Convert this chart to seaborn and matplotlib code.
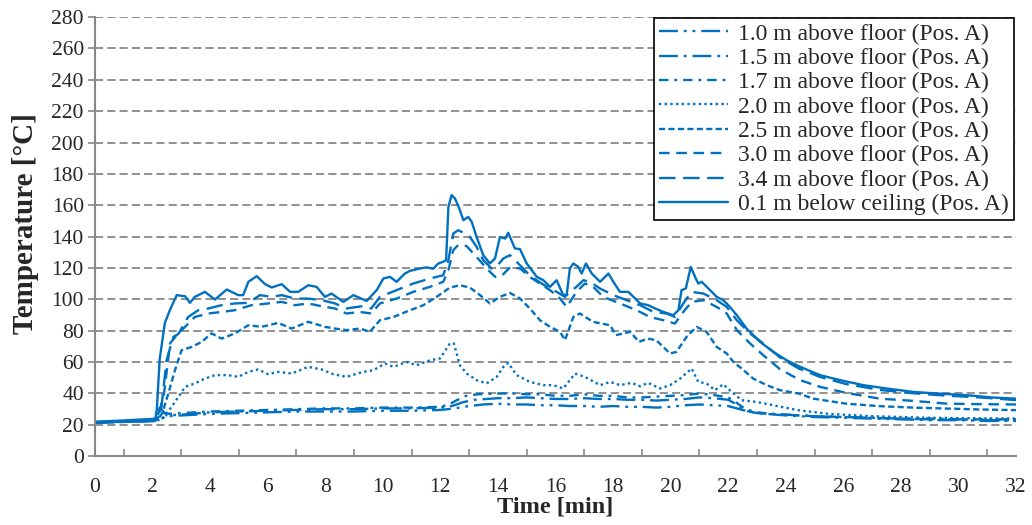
import numpy as np
import pandas as pd
import seaborn as sns
import matplotlib
matplotlib.use("Agg")
import matplotlib.pyplot as plt

# ---- measured temperatures, position A (time in min, temperature in °C) ----
t_01c = [0, 1, 2, 2.1, 2.15, 2.25, 2.43, 2.6, 2.84, 3.13, 3.3, 3.47, 3.82, 4.17, 4.58, 4.98,
         5.15, 5.33, 5.62, 5.91, 6.14, 6.49, 6.78, 7.06, 7.41, 7.7, 7.99, 8.22, 8.63, 8.98,
         9.44, 9.79, 10.02, 10.25, 10.48, 10.77, 10.95, 11.29, 11.52, 11.75, 11.93, 12.1,
         12.2, 12.28, 12.39, 12.51, 12.68, 12.8, 12.97, 13.09, 13.26, 13.49, 13.72, 13.9,
         14.07, 14.25, 14.36, 14.59, 14.77, 15.0, 15.35, 15.58, 15.81, 16.04, 16.27, 16.39,
         16.5, 16.62, 16.79, 16.91, 17.06, 17.26, 17.55, 17.84, 18.01, 18.24, 18.53, 18.71,
         18.94, 19.22, 19.46, 19.75, 20.09, 20.27, 20.38, 20.53, 20.7, 20.85, 20.96, 21.08,
         21.37, 21.6, 21.83, 22.06, 22.3, 22.64, 23.11, 23.57, 24.03, 24.5, 25.19, 25.89,
         26.7, 27.5, 28.43, 29.36, 30.29, 31.21, 32]
T_01c = [22, 22.8, 23.8, 24, 30, 62, 85, 93, 102.7, 102, 97.8, 101.6, 104.8, 99.9, 106.3, 102.7,
         102.7, 111.2, 114.8, 109.7, 107.6, 109.7, 104.8, 104.8, 109, 108, 101.6, 103.7, 98.4, 102.7,
         99, 105.9, 113.3, 114.4, 111.2, 116.5, 118.2, 119.7, 120.4, 119.5, 122.9, 124,
         125, 159, 166.5, 164.3, 156.9, 150.5, 152.6, 149.4, 139.8, 128.2, 122.9, 126.1,
         139.8, 138.8, 142.4, 132.5, 132, 122.9, 114.4, 112.2, 108, 112.2, 102.7, 103,
         119.7, 122.9, 120.8, 116.5, 122.9, 116.5, 111.2, 116.5, 111.2, 104.8, 104.8, 101.6,
         97.4, 96.3, 94.2, 92, 89.9, 93.1, 105.9, 107, 120.7, 114.4, 110.1, 111.2,
         105.9, 101.6, 99.5, 95.2, 89.9, 81.4, 72.9, 66.5, 61.2, 57, 51.7, 48.5,
         45.3, 43.2, 41, 39.9, 38.9, 37.4, 36.7]

t_34 = [0, 1, 2, 2.15, 2.3, 2.49, 2.72, 2.9, 3.24, 3.59, 3.94, 4.4, 4.86, 5.33, 5.73, 6.14,
        6.49, 6.95, 7.41, 7.88, 8.34, 8.74, 9.3, 9.6, 9.9, 10.48, 11.06, 11.64, 12.1, 12.28,
        12.45, 12.62, 12.8, 13.03, 13.26, 13.49, 13.78, 14.0, 14.19, 14.42, 14.65, 14.88,
        15.1, 15.35, 15.7, 16.04, 16.33, 16.5, 16.73, 16.97, 17.2, 17.55, 18.01, 18.47,
        18.94, 19.4, 19.86, 20.15, 20.44, 20.73, 21.14, 21.6, 21.95, 22.3, 22.76, 23.22,
        23.8, 24.44, 25.2, 26.1, 27.3, 28.4, 29.6, 30.75, 32]
T_34 = [21.5, 22.3, 23, 23.5, 30, 61.2, 76, 78, 88.8, 93.1, 94.2, 96.3, 97.4, 97.8, 102.7, 101.6,
        102.7, 100.5, 100.5, 99.5, 97.4, 94.2, 95.7, 94.2, 101.6, 105.9, 110.1, 113.3, 115.4, 125,
        142, 144.1, 142.5, 139.8, 133.5, 125, 119.7, 122, 126.1, 128.2, 123.9, 119.7,
        115.4, 112.2, 108, 104.8, 101.6, 104.8, 108, 112.2, 111.2, 106.9, 102.7, 99.5,
        96.3, 92, 91, 88.8, 97.4, 104.8, 103.7, 99.5, 95.2, 86.7, 78.3, 71.9,
        63, 56, 50.5, 46, 42.2, 40.2, 38.6, 37.5, 35.8]

t_30 = [0, 1, 2, 2.2, 2.4, 2.61, 2.84, 3.13, 3.47, 3.94, 4.4, 4.86, 5.44, 6.02, 6.49, 6.95,
        7.41, 7.99, 8.34, 8.74, 9.2, 9.6, 9.9, 10.48, 11.06, 11.64, 12.1, 12.28, 12.45, 12.62,
        12.91, 13.26, 13.61, 13.9, 14.13, 14.42, 14.77, 15.1, 15.46, 15.81, 16.16, 16.39,
        16.73, 17.02, 17.31, 17.66, 18.24, 18.82, 19.28, 19.75, 20.15, 20.44, 20.73, 21.14,
        21.6, 21.95, 22.3, 22.76, 23.22, 23.8, 24.5, 25.2, 26.1, 27.27, 28.43, 29.6, 30.75, 32]
T_30 = [21.5, 22.2, 22.8, 25, 40, 71.9, 77.2, 82.5, 88.8, 91, 92, 93.1, 96.3, 97.4, 98.4, 96.3,
        97.4, 95.2, 94.2, 91, 92, 91, 97.4, 100.5, 104.8, 108, 111.2, 118.6, 131.4, 134.6,
        134, 127.1, 119.7, 114.4, 115, 120.4, 119.7, 114.4, 110.1, 105.9, 100.5, 95.2,
        104.8, 110.1, 108, 101.6, 97.4, 93.1, 88.8, 86.7, 84.6, 92, 98.4, 99.5,
        95.2, 91, 80.4, 71.9, 64.4, 55.5, 48.5, 44.2, 40.4, 36.7, 35.3, 33.5, 33.2, 33]

t_25 = [0, 1, 2, 2.2, 2.35, 2.55, 2.78, 3.01, 3.36, 3.71, 4.05, 4.4, 4.86, 5.33, 5.79, 6.37,
        6.83, 7.41, 7.99, 8.34, 8.74, 9.21, 9.55, 9.9, 10.37, 10.95, 11.41, 11.87, 12.33, 12.68,
        13.03, 13.38, 13.72, 14.07, 14.42, 14.77, 15.11, 15.46, 15.81, 16.16, 16.33, 16.62,
        16.85, 17.3, 17.9, 18.1, 18.6, 18.9, 19.2, 19.5, 19.98, 20.2, 20.55, 20.9,
        21.25, 21.6, 21.95, 22.18, 22.47, 22.87, 23.34, 23.8, 24.44, 24.96, 26.1, 27.27,
        28.43, 29.6, 30.75, 32]
T_25 = [21.5, 22, 22.6, 23.5, 28, 40, 54.8, 67.6, 69.7, 72.9, 78.3, 75, 78.3, 83.5, 82.5, 85,
        81.4, 85.7, 82.5, 81.4, 80.4, 81.4, 79.3, 86.7, 88.8, 93.1, 96.3, 101.6, 107.5, 109,
        107.5, 102.7, 97.4, 101.6, 104.1, 100.5, 94.2, 86.7, 82.5, 79.3, 74, 88.8,
        91, 85.7, 83.5, 77.2, 79.3, 72.9, 75, 74, 65.5, 66.5, 76, 82.5,
        79.3, 69.7, 65.5, 60.1, 55.9, 49.5, 45.3, 42.1, 40, 36.7, 33.5, 31.9,
        31, 30.4, 29.8, 29.4]

t_20 = [0, 1, 2, 2.2, 2.4, 2.66, 2.9, 3.13, 3.47, 3.82, 4.17, 4.63, 4.98, 5.33, 5.67, 6.02,
        6.37, 6.83, 7.41, 7.88, 8.28, 8.74, 9.32, 9.67, 10.08, 10.37, 10.83, 11.18, 11.64, 11.99,
        12.33, 12.47, 12.68, 12.92, 13.26, 13.61, 13.96, 14.19, 14.36, 14.65, 15.11, 15.58,
        15.92, 16.27, 16.68, 17.02, 17.55, 17.9, 18.24, 18.65, 18.94, 19.22, 19.63, 19.98,
        20.33, 20.73, 20.96, 21.25, 21.54, 21.83, 22.12, 22.47, 22.99, 23.57, 24.44, 25.5,
        27, 29, 30.5, 32]
T_20 = [21.5, 22, 22.5, 23, 25, 31.5, 37.8, 44.2, 46.4, 49.5, 51.7, 51.7, 50.6, 53.8, 55.3, 52.3,
        53.8, 52.7, 57, 55.3, 52.3, 50.6, 53.8, 54.8, 59.1, 57, 60.1, 58, 61.2, 62.3,
        71.9, 71.9, 58, 52.7, 48.5, 46.4, 50.6, 57, 59.5, 51.7, 47.4, 45.3,
        45.3, 43.2, 52.7, 50.6, 45.3, 47.4, 45.3, 46.8, 44.6, 46.8, 43.2, 45.3,
        49.5, 55.9, 47.4, 46.4, 42.1, 45.9, 41, 35.7, 34.6, 32.5, 29.3, 27,
        25.5, 24.5, 24.2, 24]

t_17 = [0, 1, 2, 2.15, 2.3, 2.6, 3, 4, 5, 6, 7, 8, 9, 10, 11, 12, 12.3, 12.6, 12.9, 13.3,
        14, 14.5, 15, 15.5, 16, 16.5, 17, 17.5, 18, 18.5, 19, 19.5, 20, 20.5, 21, 21.5,
        22, 22.3, 22.6, 23, 23.5, 24, 25, 26, 27, 28, 29, 30, 31, 32]
T_17 = [21.5, 22, 22.8, 23.2, 28, 27, 27.5, 28.5, 29, 29.5, 30, 30.5, 30.5, 31, 31, 31.5, 33, 36, 38.5, 39.5,
        40, 40, 39.5, 39.5, 38.5, 38.5, 39.5, 38.5, 38.5, 37.5, 37.5, 38, 38.5, 39, 40, 39,
        37.5, 34, 30, 28, 27, 26.5, 25.5, 25, 24.5, 24, 24, 23.5, 23.5, 23.5]

t_15 = [0, 1, 2, 2.15, 2.25, 2.5, 3, 4, 5, 6, 7, 8, 9, 10, 11, 12, 12.4, 12.8, 13.2, 14,
        14.5, 15, 15.5, 16, 16.5, 17, 17.5, 18, 18.5, 19, 19.5, 20, 20.5, 21, 21.5, 22,
        22.3, 22.6, 23, 24, 25, 26, 27, 28, 29, 30, 31, 32]
T_15 = [21.5, 22, 22.6, 23, 31, 26, 26.5, 28, 28.5, 29, 29.5, 30, 30, 30.5, 30.5, 31, 32, 34.5, 36, 37,
        37, 37.5, 37, 36.5, 36.5, 37, 36.5, 36.5, 36, 36, 35.5, 36, 36.5, 37.5, 37, 36,
        33, 29, 27.5, 26.5, 25.5, 25, 24.5, 24, 23.5, 23.5, 23, 23]

t_10 = [0, 1, 2, 2.2, 2.5, 3, 4, 5, 6, 7, 8, 9, 10, 11, 12, 12.5, 13, 13.5, 14, 14.5,
        15, 15.5, 16, 16.5, 17, 17.5, 18, 18.5, 19, 19.5, 20, 20.5, 21, 21.5, 22, 22.5,
        23, 24, 25, 26, 27, 28, 29, 30, 31, 32]
T_10 = [21.5, 21.8, 22.3, 23, 25.5, 26, 27, 27.5, 28, 28.5, 28.5, 28.5, 29, 29, 29.5, 30.5, 32, 33, 33.5, 33,
        33, 32.5, 32.5, 32, 32, 31.5, 32, 31.5, 31.5, 31, 31.5, 32.5, 33, 32.5, 32, 29.5,
        27.5, 26, 25, 24.5, 24, 23.5, 23, 23, 22.5, 22.5]

labels = ["1.0 m above floor (Pos. A)", "1.5 m above floor (Pos. A)",
          "1.7 m above floor (Pos. A)", "2.0 m above floor (Pos. A)",
          "2.5 m above floor (Pos. A)", "3.0 m above floor (Pos. A)",
          "3.4 m above floor (Pos. A)", "0.1 m below ceiling (Pos. A)"]
times = [t_10, t_15, t_17, t_20, t_25, t_30, t_34, t_01c]
temps = [T_10, T_15, T_17, T_20, T_25, T_30, T_34, T_01c]

x_ticks = list(range(0, 33, 2))
y_ticks = list(range(0, 281, 20))

# ---- styling ----
blue = "#0070C0"
grey = "#888888"
styles = [(0, (8, 2.5, 1.2, 2.5, 1.2, 2.5)),
          (0, (8, 2.5, 1.2, 2.5)),
          (0, (4, 2.5, 1.2, 2.5)),
          (0, (1, 1.4)),
          (0, (2.6, 1.4)),
          (0, (4.5, 2.8)),
          (0, (7, 3.2)),
          "-"]

sns.set_theme(style="white")
plt.rcParams["font.family"] = ["Liberation Serif", "DejaVu Serif"]

fig = plt.figure(figsize=(10.32, 5.25), dpi=100)
ax = fig.add_axes([0.092, 0.131, 0.8925, 0.8365])

for t, T, lab, ls in zip(times, temps, labels, styles):
    df = pd.DataFrame({"Time": t, "Temp": T})
    sns.lineplot(data=df, x="Time", y="Temp", ax=ax, color=blue, linestyle=ls,
                 linewidth=1.7, label=lab, sort=False, estimator=None)

ax.set_xlim(0, 32)
ax.set_ylim(0, 280)
ax.set_xticks(x_ticks)
ax.set_xticks(range(0, 33), minor=True)
ax.set_yticks(y_ticks)
ax.tick_params(axis="x", which="major", direction="inout", length=9, width=1.2,
               color=grey, labelsize=15.5, pad=11)
ax.tick_params(axis="x", which="minor", direction="in", length=5, width=1.2, color=grey,
               bottom=True)
ax.tick_params(axis="y", which="major", direction="out", length=5, width=1.2,
               color=grey, labelsize=15.5, pad=3, left=True)

ax.yaxis.grid(True, color=grey, linestyle=(0, (4.5, 2.3)), linewidth=1.3)
ax.xaxis.grid(False)
ax.set_axisbelow(True)

for side in ["top", "right"]:
    ax.spines[side].set_visible(False)
for side in ["left", "bottom"]:
    ax.spines[side].set_color(grey)
    ax.spines[side].set_linewidth(1.5)

ax.set_xlabel("Time [min]", fontsize=17.5, fontweight="bold", labelpad=0)
ax.set_ylabel("Temperature [°C]", fontsize=21, fontweight="bold")
ax.yaxis.set_label_coords(-0.061, 0.53)

leg = ax.legend(loc="upper right", bbox_to_anchor=(0.998, 0.998), fontsize=17,
                frameon=True, fancybox=False, edgecolor="black", framealpha=1,
                handlelength=2.9, handletextpad=0.45, labelspacing=0.12,
                borderpad=0.22, borderaxespad=0.0)
leg.get_frame().set_linewidth(1.2)

fig.savefig("out.png", dpi=100)
